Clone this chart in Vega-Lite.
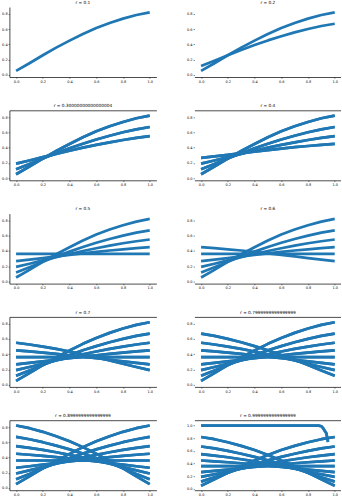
{
  "$schema": "https://vega.github.io/schema/vega-lite/v6.json",
  "padding": {"left": 1.4, "top": 0, "right": 0, "bottom": 0},
  "bounds": "flush",
  "columns": 2,
  "spacing": {"row": 33.3, "column": 38},
  "datasets": {
    "curves": [
      {"curve":1,"x":0,"y":0.050},{"curve":1,"x":0.1,"y":0.151},{"curve":1,"x":0.2,"y":0.256},{"curve":1,"x":0.3,"y":0.356},{"curve":1,"x":0.4,"y":0.448},{"curve":1,"x":0.5,"y":0.536},{"curve":1,"x":0.6,"y":0.614},{"curve":1,"x":0.7,"y":0.680},{"curve":1,"x":0.8,"y":0.737},{"curve":1,"x":0.9,"y":0.785},{"curve":1,"x":1,"y":0.820},
      {"curve":2,"x":0,"y":0.115},{"curve":2,"x":0.1,"y":0.184},{"curve":2,"x":0.2,"y":0.257},{"curve":2,"x":0.3,"y":0.326},{"curve":2,"x":0.4,"y":0.390},{"curve":2,"x":0.5,"y":0.451},{"curve":2,"x":0.6,"y":0.506},{"curve":2,"x":0.7,"y":0.556},{"curve":2,"x":0.8,"y":0.601},{"curve":2,"x":0.9,"y":0.640},{"curve":2,"x":1,"y":0.670},
      {"curve":3,"x":0,"y":0.190},{"curve":3,"x":0.1,"y":0.231},{"curve":3,"x":0.2,"y":0.275},{"curve":3,"x":0.3,"y":0.318},{"curve":3,"x":0.4,"y":0.359},{"curve":3,"x":0.5,"y":0.399},{"curve":3,"x":0.6,"y":0.435},{"curve":3,"x":0.7,"y":0.469},{"curve":3,"x":0.8,"y":0.500},{"curve":3,"x":0.9,"y":0.527},{"curve":3,"x":1,"y":0.550},
      {"curve":4,"x":0,"y":0.265},{"curve":4,"x":0.1,"y":0.285},{"curve":4,"x":0.2,"y":0.305},{"curve":4,"x":0.3,"y":0.327},{"curve":4,"x":0.4,"y":0.347},{"curve":4,"x":0.5,"y":0.367},{"curve":4,"x":0.6,"y":0.386},{"curve":4,"x":0.7,"y":0.405},{"curve":4,"x":0.8,"y":0.421},{"curve":4,"x":0.9,"y":0.436},{"curve":4,"x":1,"y":0.449},
      {"curve":5,"x":0,"y":0.36},{"curve":5,"x":0.1,"y":0.36},{"curve":5,"x":0.2,"y":0.36},{"curve":5,"x":0.3,"y":0.36},{"curve":5,"x":0.4,"y":0.36},{"curve":5,"x":0.5,"y":0.36},{"curve":5,"x":0.6,"y":0.36},{"curve":5,"x":0.7,"y":0.36},{"curve":5,"x":0.8,"y":0.36},{"curve":5,"x":0.9,"y":0.36},{"curve":5,"x":1,"y":0.36},
      {"curve":6,"x":0,"y":0.449},{"curve":6,"x":0.1,"y":0.436},{"curve":6,"x":0.2,"y":0.421},{"curve":6,"x":0.3,"y":0.405},{"curve":6,"x":0.4,"y":0.386},{"curve":6,"x":0.5,"y":0.367},{"curve":6,"x":0.6,"y":0.347},{"curve":6,"x":0.7,"y":0.327},{"curve":6,"x":0.8,"y":0.305},{"curve":6,"x":0.9,"y":0.285},{"curve":6,"x":1,"y":0.265},
      {"curve":7,"x":0,"y":0.550},{"curve":7,"x":0.1,"y":0.527},{"curve":7,"x":0.2,"y":0.500},{"curve":7,"x":0.3,"y":0.469},{"curve":7,"x":0.4,"y":0.435},{"curve":7,"x":0.5,"y":0.399},{"curve":7,"x":0.6,"y":0.359},{"curve":7,"x":0.7,"y":0.318},{"curve":7,"x":0.8,"y":0.275},{"curve":7,"x":0.9,"y":0.231},{"curve":7,"x":1,"y":0.190},
      {"curve":8,"x":0,"y":0.670},{"curve":8,"x":0.1,"y":0.640},{"curve":8,"x":0.2,"y":0.601},{"curve":8,"x":0.3,"y":0.556},{"curve":8,"x":0.4,"y":0.506},{"curve":8,"x":0.5,"y":0.451},{"curve":8,"x":0.6,"y":0.390},{"curve":8,"x":0.7,"y":0.326},{"curve":8,"x":0.8,"y":0.257},{"curve":8,"x":0.9,"y":0.184},{"curve":8,"x":1,"y":0.115},
      {"curve":9,"x":0,"y":0.820},{"curve":9,"x":0.1,"y":0.785},{"curve":9,"x":0.2,"y":0.737},{"curve":9,"x":0.3,"y":0.680},{"curve":9,"x":0.4,"y":0.614},{"curve":9,"x":0.5,"y":0.536},{"curve":9,"x":0.6,"y":0.448},{"curve":9,"x":0.7,"y":0.356},{"curve":9,"x":0.8,"y":0.256},{"curve":9,"x":0.9,"y":0.151},{"curve":9,"x":1,"y":0.050},
      {"curve":10,"x":0,"y":1.0},{"curve":10,"x":0.3,"y":1.0},{"curve":10,"x":0.6,"y":1.0},{"curve":10,"x":0.88,"y":1.0},{"curve":10,"x":0.9,"y":0.99},{"curve":10,"x":0.9125,"y":0.96},{"curve":10,"x":0.925,"y":0.92},{"curve":10,"x":0.9375,"y":0.88},{"curve":10,"x":0.95,"y":0.74}
    ]
  },
  "data": {"name": "curves"},
  "concat": [
    {
      "title": "r = 0.1", "width": 147, "height": 70,
      "transform": [{"filter": "datum.curve <= 1"}],
      "mark": {"type": "line", "color": "#1f77b4", "strokeWidth": 2.7, "interpolate": "linear", "strokeJoin": "round"},
      "encoding": {
        "x": {"field": "x", "type": "quantitative", "title": null, "scale": {"domain": [-0.05, 1.05], "nice": false, "zero": false}, "axis": {"values": [0, 0.2, 0.4, 0.6, 0.8, 1], "format": ".1f"}},
        "y": {"field": "y", "type": "quantitative", "title": null, "scale": {"domain": [-0.03, 0.89], "nice": false, "zero": false}, "axis": {"values": [0, 0.2, 0.4, 0.6, 0.8], "format": ".1f", "domain": true}},
        "detail": {"field": "curve", "type": "nominal"}
      }
    },
    {
      "title": "r = 0.2", "width": 147, "height": 70,
      "transform": [{"filter": "datum.curve <= 2"}],
      "mark": {"type": "line", "color": "#1f77b4", "strokeWidth": 2.7, "interpolate": "linear", "strokeJoin": "round"},
      "encoding": {
        "x": {"field": "x", "type": "quantitative", "title": null, "scale": {"domain": [-0.05, 1.05], "nice": false, "zero": false}, "axis": {"values": [0, 0.2, 0.4, 0.6, 0.8, 1], "format": ".1f"}},
        "y": {"field": "y", "type": "quantitative", "title": null, "scale": {"domain": [-0.03, 0.89], "nice": false, "zero": false}, "axis": {"values": [0, 0.2, 0.4, 0.6, 0.8], "format": ".1f", "domain": false}},
        "detail": {"field": "curve", "type": "nominal"}
      }
    },
    {
      "title": "r = 0.30000000000000004", "width": 147, "height": 70,
      "transform": [{"filter": "datum.curve <= 3"}],
      "layer": [
        {
          "mark": {"type": "line", "color": "#1f77b4", "strokeWidth": 2.7, "interpolate": "linear", "strokeJoin": "round"},
          "encoding": {
            "x": {"field": "x", "type": "quantitative", "title": null, "scale": {"domain": [-0.05, 1.05], "nice": false, "zero": false}, "axis": {"values": [0, 0.2, 0.4, 0.6, 0.8, 1], "format": ".1f"}},
            "y": {"field": "y", "type": "quantitative", "title": null, "scale": {"domain": [-0.03, 0.89], "nice": false, "zero": false}, "axis": {"values": [0, 0.2, 0.4, 0.6, 0.8], "format": ".1f", "domain": true}},
            "detail": {"field": "curve", "type": "nominal"}
          }
        },
        {
          "mark": {"type": "line", "color": "#1f77b4", "strokeWidth": 2.7, "interpolate": "linear", "strokeJoin": "round"},
          "encoding": {
            "x": {"field": "x", "type": "quantitative", "title": null, "scale": {"domain": [-0.05, 1.05], "nice": false, "zero": false}, "axis": {"orient": "top", "labels": false, "ticks": false, "domain": true}},
            "y": {"field": "y", "type": "quantitative", "title": null, "scale": {"domain": [-0.03, 0.89], "nice": false, "zero": false}, "axis": {"values": [0, 0.2, 0.4, 0.6, 0.8], "format": ".1f", "domain": true}},
            "detail": {"field": "curve", "type": "nominal"}
          }
        }
      ],
      "resolve": {"axis": {"x": "independent"}}
    },
    {
      "title": "r = 0.4", "width": 147, "height": 70,
      "transform": [{"filter": "datum.curve <= 4"}],
      "layer": [
        {
          "mark": {"type": "line", "color": "#1f77b4", "strokeWidth": 2.7, "interpolate": "linear", "strokeJoin": "round"},
          "encoding": {
            "x": {"field": "x", "type": "quantitative", "title": null, "scale": {"domain": [-0.05, 1.05], "nice": false, "zero": false}, "axis": {"values": [0, 0.2, 0.4, 0.6, 0.8, 1], "format": ".1f"}},
            "y": {"field": "y", "type": "quantitative", "title": null, "scale": {"domain": [-0.03, 0.89], "nice": false, "zero": false}, "axis": {"values": [0, 0.2, 0.4, 0.6, 0.8], "format": ".1f", "domain": false}},
            "detail": {"field": "curve", "type": "nominal"}
          }
        },
        {
          "mark": {"type": "line", "color": "#1f77b4", "strokeWidth": 2.7, "interpolate": "linear", "strokeJoin": "round"},
          "encoding": {
            "x": {"field": "x", "type": "quantitative", "title": null, "scale": {"domain": [-0.05, 1.05], "nice": false, "zero": false}, "axis": {"orient": "top", "labels": false, "ticks": false, "domain": true}},
            "y": {"field": "y", "type": "quantitative", "title": null, "scale": {"domain": [-0.03, 0.89], "nice": false, "zero": false}, "axis": {"values": [0, 0.2, 0.4, 0.6, 0.8], "format": ".1f", "domain": false}},
            "detail": {"field": "curve", "type": "nominal"}
          }
        }
      ],
      "resolve": {"axis": {"x": "independent"}}
    },
    {
      "title": "r = 0.5", "width": 147, "height": 70,
      "transform": [{"filter": "datum.curve <= 5"}],
      "mark": {"type": "line", "color": "#1f77b4", "strokeWidth": 2.7, "interpolate": "linear", "strokeJoin": "round"},
      "encoding": {
        "x": {"field": "x", "type": "quantitative", "title": null, "scale": {"domain": [-0.05, 1.05], "nice": false, "zero": false}, "axis": {"values": [0, 0.2, 0.4, 0.6, 0.8, 1], "format": ".1f"}},
        "y": {"field": "y", "type": "quantitative", "title": null, "scale": {"domain": [-0.03, 0.89], "nice": false, "zero": false}, "axis": {"values": [0, 0.2, 0.4, 0.6, 0.8], "format": ".1f", "domain": true}},
        "detail": {"field": "curve", "type": "nominal"}
      }
    },
    {
      "title": "r = 0.6", "width": 147, "height": 70,
      "transform": [{"filter": "datum.curve <= 6"}],
      "mark": {"type": "line", "color": "#1f77b4", "strokeWidth": 2.7, "interpolate": "linear", "strokeJoin": "round"},
      "encoding": {
        "x": {"field": "x", "type": "quantitative", "title": null, "scale": {"domain": [-0.05, 1.05], "nice": false, "zero": false}, "axis": {"values": [0, 0.2, 0.4, 0.6, 0.8, 1], "format": ".1f"}},
        "y": {"field": "y", "type": "quantitative", "title": null, "scale": {"domain": [-0.03, 0.89], "nice": false, "zero": false}, "axis": {"values": [0, 0.2, 0.4, 0.6, 0.8], "format": ".1f", "domain": false}},
        "detail": {"field": "curve", "type": "nominal"}
      }
    },
    {
      "title": "r = 0.7", "width": 147, "height": 70,
      "transform": [{"filter": "datum.curve <= 7"}],
      "layer": [
        {
          "mark": {"type": "line", "color": "#1f77b4", "strokeWidth": 2.7, "interpolate": "linear", "strokeJoin": "round"},
          "encoding": {
            "x": {"field": "x", "type": "quantitative", "title": null, "scale": {"domain": [-0.05, 1.05], "nice": false, "zero": false}, "axis": {"values": [0, 0.2, 0.4, 0.6, 0.8, 1], "format": ".1f"}},
            "y": {"field": "y", "type": "quantitative", "title": null, "scale": {"domain": [-0.03, 0.89], "nice": false, "zero": false}, "axis": {"values": [0, 0.2, 0.4, 0.6, 0.8], "format": ".1f", "domain": true}},
            "detail": {"field": "curve", "type": "nominal"}
          }
        },
        {
          "mark": {"type": "line", "color": "#1f77b4", "strokeWidth": 2.7, "interpolate": "linear", "strokeJoin": "round"},
          "encoding": {
            "x": {"field": "x", "type": "quantitative", "title": null, "scale": {"domain": [-0.05, 1.05], "nice": false, "zero": false}, "axis": {"orient": "top", "labels": false, "ticks": false, "domain": true}},
            "y": {"field": "y", "type": "quantitative", "title": null, "scale": {"domain": [-0.03, 0.89], "nice": false, "zero": false}, "axis": {"values": [0, 0.2, 0.4, 0.6, 0.8], "format": ".1f", "domain": true}},
            "detail": {"field": "curve", "type": "nominal"}
          }
        }
      ],
      "resolve": {"axis": {"x": "independent"}}
    },
    {
      "title": "r = 0.7999999999999999", "width": 147, "height": 70,
      "transform": [{"filter": "datum.curve <= 8"}],
      "layer": [
        {
          "mark": {"type": "line", "color": "#1f77b4", "strokeWidth": 2.7, "interpolate": "linear", "strokeJoin": "round"},
          "encoding": {
            "x": {"field": "x", "type": "quantitative", "title": null, "scale": {"domain": [-0.05, 1.05], "nice": false, "zero": false}, "axis": {"values": [0, 0.2, 0.4, 0.6, 0.8, 1], "format": ".1f"}},
            "y": {"field": "y", "type": "quantitative", "title": null, "scale": {"domain": [-0.03, 0.89], "nice": false, "zero": false}, "axis": {"values": [0, 0.2, 0.4, 0.6, 0.8], "format": ".1f", "domain": false}},
            "detail": {"field": "curve", "type": "nominal"}
          }
        },
        {
          "mark": {"type": "line", "color": "#1f77b4", "strokeWidth": 2.7, "interpolate": "linear", "strokeJoin": "round"},
          "encoding": {
            "x": {"field": "x", "type": "quantitative", "title": null, "scale": {"domain": [-0.05, 1.05], "nice": false, "zero": false}, "axis": {"orient": "top", "labels": false, "ticks": false, "domain": true}},
            "y": {"field": "y", "type": "quantitative", "title": null, "scale": {"domain": [-0.03, 0.89], "nice": false, "zero": false}, "axis": {"values": [0, 0.2, 0.4, 0.6, 0.8], "format": ".1f", "domain": false}},
            "detail": {"field": "curve", "type": "nominal"}
          }
        }
      ],
      "resolve": {"axis": {"x": "independent"}}
    },
    {
      "title": "r = 0.8999999999999999", "width": 147, "height": 70,
      "transform": [{"filter": "datum.curve <= 9"}],
      "layer": [
        {
          "mark": {"type": "line", "color": "#1f77b4", "strokeWidth": 2.7, "interpolate": "linear", "strokeJoin": "round"},
          "encoding": {
            "x": {"field": "x", "type": "quantitative", "title": null, "scale": {"domain": [-0.05, 1.05], "nice": false, "zero": false}, "axis": {"values": [0, 0.2, 0.4, 0.6, 0.8, 1], "format": ".1f"}},
            "y": {"field": "y", "type": "quantitative", "title": null, "scale": {"domain": [-0.03, 0.89], "nice": false, "zero": false}, "axis": {"values": [0, 0.2, 0.4, 0.6, 0.8], "format": ".1f", "domain": true}},
            "detail": {"field": "curve", "type": "nominal"}
          }
        },
        {
          "mark": {"type": "line", "color": "#1f77b4", "strokeWidth": 2.7, "interpolate": "linear", "strokeJoin": "round"},
          "encoding": {
            "x": {"field": "x", "type": "quantitative", "title": null, "scale": {"domain": [-0.05, 1.05], "nice": false, "zero": false}, "axis": {"orient": "top", "labels": false, "ticks": false, "domain": true}},
            "y": {"field": "y", "type": "quantitative", "title": null, "scale": {"domain": [-0.03, 0.89], "nice": false, "zero": false}, "axis": {"values": [0, 0.2, 0.4, 0.6, 0.8], "format": ".1f", "domain": true}},
            "detail": {"field": "curve", "type": "nominal"}
          }
        }
      ],
      "resolve": {"axis": {"x": "independent"}}
    },
    {
      "title": "r = 0.9999999999999999", "width": 147, "height": 70,
      "transform": [{"filter": "datum.curve <= 10"}],
      "layer": [
        {
          "mark": {"type": "line", "color": "#1f77b4", "strokeWidth": 2.7, "interpolate": "linear", "strokeJoin": "round"},
          "encoding": {
            "x": {"field": "x", "type": "quantitative", "title": null, "scale": {"domain": [-0.05, 1.05], "nice": false, "zero": false}, "axis": {"values": [0, 0.2, 0.4, 0.6, 0.8, 1], "format": ".1f"}},
            "y": {"field": "y", "type": "quantitative", "title": null, "scale": {"domain": [-0.02, 1.085], "nice": false, "zero": false}, "axis": {"values": [0, 0.2, 0.4, 0.6, 0.8, 1], "format": ".1f", "domain": false}},
            "detail": {"field": "curve", "type": "nominal"}
          }
        },
        {
          "mark": {"type": "line", "color": "#1f77b4", "strokeWidth": 2.7, "interpolate": "linear", "strokeJoin": "round"},
          "encoding": {
            "x": {"field": "x", "type": "quantitative", "title": null, "scale": {"domain": [-0.05, 1.05], "nice": false, "zero": false}, "axis": {"orient": "top", "labels": false, "ticks": false, "domain": true}},
            "y": {"field": "y", "type": "quantitative", "title": null, "scale": {"domain": [-0.02, 1.085], "nice": false, "zero": false}, "axis": {"values": [0, 0.2, 0.4, 0.6, 0.8, 1], "format": ".1f", "domain": false}},
            "detail": {"field": "curve", "type": "nominal"}
          }
        }
      ],
      "resolve": {"axis": {"x": "independent"}}
    }
  ],
  "config": {
    "view": {"stroke": null},
    "font": "DejaVu Sans",
    "axis": {"grid": false, "labelFontSize": 3.5, "labelColor": "#000", "labelFont": "DejaVu Sans", "tickColor": "#000", "tickSize": 1.3, "tickWidth": 0.5, "domainColor": "#000", "domainWidth": 0.7, "labelPadding": 1.0},
    "title": {"fontSize": 4.3, "fontWeight": "normal", "color": "#000", "offset": 2, "font": "DejaVu Sans"}
  }
}
